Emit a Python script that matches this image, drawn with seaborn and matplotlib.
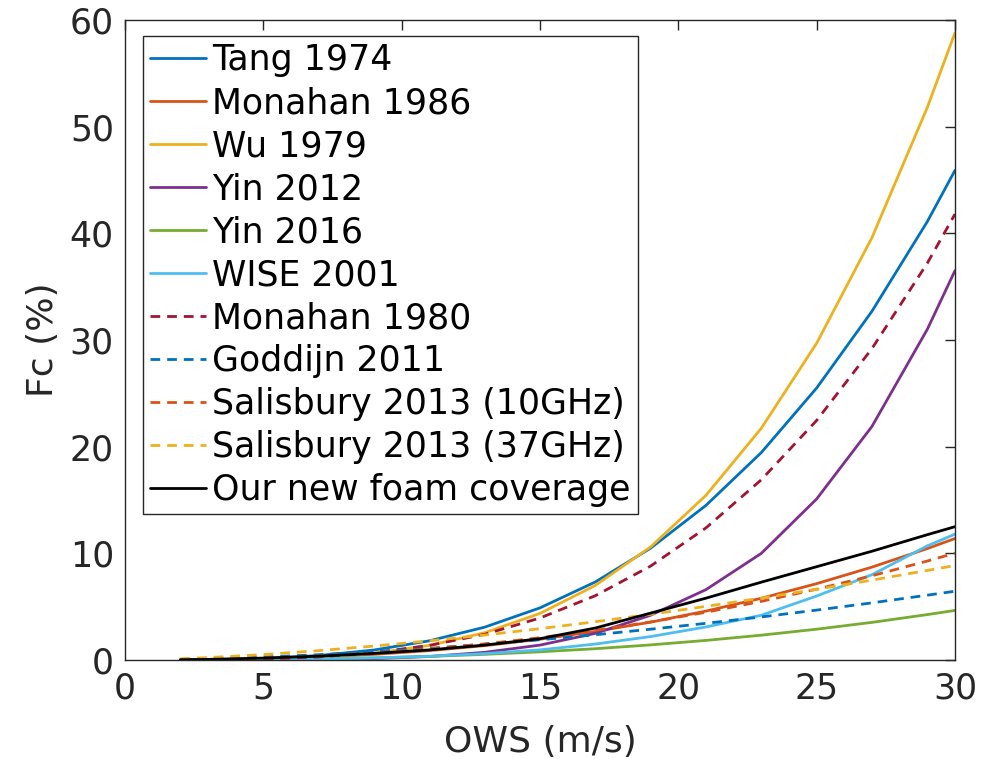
import matplotlib
matplotlib.use("Agg")
import matplotlib.pyplot as plt
import seaborn as sns

# Wind speed samples (m/s)
wind = [2, 3, 5, 7, 9, 11, 13, 15, 17, 19, 21, 23, 25, 27, 29, 30]

# Foam coverage (%) for each parameterisation
tang_1974 = [0.007, 0.027, 0.14, 0.42, 0.94, 1.80, 3.08, 4.89, 7.32, 10.49, 14.50, 19.45, 25.5, 32.7, 41.1, 45.9]
monahan_1986 = [0.011, 0.032, 0.12, 0.28, 0.53, 0.88, 1.35, 1.95, 2.68, 3.55, 4.59, 5.79, 7.16, 8.71, 10.45, 11.39]
wu_1979 = [0.002, 0.011, 0.071, 0.25, 0.64, 1.37, 2.56, 4.37, 6.99, 10.61, 15.44, 21.73, 29.70, 39.6, 51.8, 58.8]
yin_2012 = [0.0, 0.001, 0.008, 0.04, 0.13, 0.33, 0.72, 1.4, 2.5, 4.2, 6.6, 10.0, 15.1, 21.9, 31.0, 36.5]
yin_2016 = [0.004, 0.012, 0.044, 0.105, 0.20, 0.34, 0.53, 0.77, 1.06, 1.42, 1.84, 2.33, 2.89, 3.53, 4.26, 4.65]
wise_2001 = [0.0, 0.01, 0.04, 0.1, 0.2, 0.35, 0.6, 0.95, 1.5, 2.2, 3.1, 4.2, 6.0, 8.0, 10.7, 11.8]
monahan_1980 = [0.004, 0.016, 0.093, 0.29, 0.69, 1.37, 2.41, 3.94, 6.03, 8.81, 12.39, 16.90, 22.46, 29.2, 37.2, 41.8]
goddijn_2011 = [0.055, 0.11, 0.28, 0.50, 0.78, 1.10, 1.48, 1.90, 2.37, 2.89, 3.44, 4.04, 4.68, 5.36, 6.08, 6.45]
salisbury_10 = [0.022, 0.055, 0.175, 0.37, 0.66, 1.04, 1.51, 2.09, 2.78, 3.57, 4.48, 5.50, 6.64, 7.90, 9.28, 10.02]
salisbury_37 = [0.12, 0.23, 0.51, 0.88, 1.31, 1.80, 2.34, 2.94, 3.59, 4.29, 5.03, 5.81, 6.63, 7.49, 8.40, 8.86]
new_foam = [0.03, 0.06, 0.18, 0.36, 0.62, 0.95, 1.4, 2.0, 3.0, 4.4, 5.8, 7.3, 8.75, 10.2, 11.75, 12.5]

labels = ["Tang 1974", "Monahan 1986", "Wu 1979", "Yin 2012", "Yin 2016",
          "WISE 2001", "Monahan 1980", "Goddijn 2011",
          "Salisbury 2013 (10GHz)", "Salisbury 2013 (37GHz)",
          "Our new foam coverage"]
series = [tang_1974, monahan_1986, wu_1979, yin_2012, yin_2016, wise_2001,
          monahan_1980, goddijn_2011, salisbury_10, salisbury_37, new_foam]
colors = ["#0072BD", "#D95319", "#EDB120", "#7E2F8E", "#77AC30", "#4DBEEE",
          "#A2142F", "#0072BD", "#D95319", "#EDB120", "#000000"]
dashed = [False] * 6 + [True] * 4 + [False]

sns.set_theme(style="white")
plt.rcParams["font.family"] = ["DejaVu Sans"]
plt.rcParams["axes.edgecolor"] = "#262626"

fig = plt.figure(figsize=(9.9, 7.59), dpi=100)
ax = fig.add_axes([0.1263, 0.1304, 0.8383, 0.8432])

for vals, name, col, dsh in zip(series, labels, colors, dashed):
    ls = (0, (3.5, 2.5)) if dsh else "-"
    sns.lineplot(x=wind, y=vals, ax=ax, color=col, linestyle=ls,
                 linewidth=2.0, label=name)

ax.set_xlim(0, 30)
ax.set_ylim(0, 60)
ax.set_xticks([0, 5, 10, 15, 20, 25, 30])
ax.set_yticks([0, 10, 20, 30, 40, 50, 60])
ax.tick_params(direction="in", top=True, right=True, length=7, width=1,
               labelsize=25, colors="#262626", pad=8)
for sp in ax.spines.values():
    sp.set_linewidth(1.0)
    sp.set_color("#262626")

ax.set_xlabel("OWS (m/s)", fontsize=26, color="#262626", labelpad=14)
ax.set_ylabel("Fc (%)", fontsize=26, color="#262626", labelpad=7)

leg = ax.legend(loc="upper left", bbox_to_anchor=(0.0217, 0.975),
                borderaxespad=0, fontsize=25, frameon=True, fancybox=False,
                framealpha=1, edgecolor="#262626", borderpad=0.2,
                labelspacing=0.26, handlelength=1.6, handletextpad=0.2)
leg.get_frame().set_linewidth(1.0)
for t in leg.get_texts():
    t.set_color("black")

fig.savefig("out.png", dpi=100)
